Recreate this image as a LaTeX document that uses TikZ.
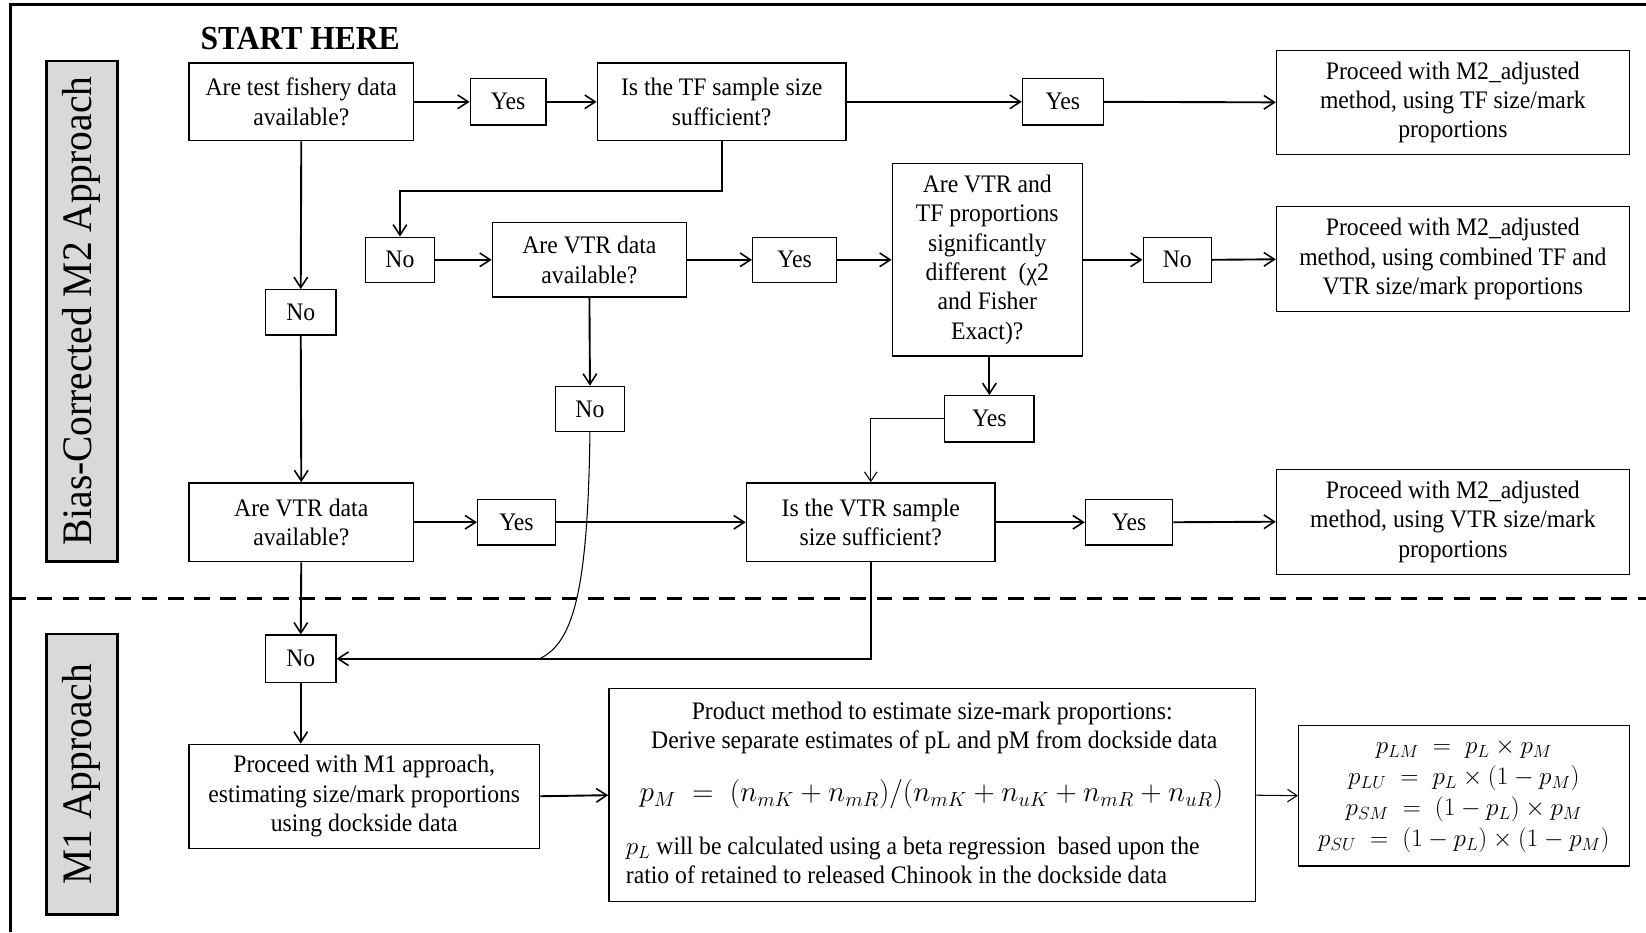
\RequirePackage{fix-cm}
\documentclass[tikz,border=0pt]{standalone}
\usepackage{graphicx}
\usepackage{fontspec}
\setmainfont{Liberation Serif}[FakeStretch=0.94]
\usetikzlibrary{arrows.meta}
\begin{document}
\begin{tikzpicture}[x=1pt,y=-1pt,
  box/.style={draw, line width=1.3pt, inner sep=0pt, align=center, font=\fontsize{24}{28}\selectfont},
  txt/.style={inner sep=0pt, font=\fontsize{24}{28}\selectfont, text height=17pt, text depth=5pt},
  lbl/.style={draw, line width=2.6pt, fill=black!15, rotate=90, inner sep=0pt, font=\fontsize{40}{40}\selectfont},
  conn/.style={line width=1.8pt, -{Straight Barb[length=10pt,width=13pt,line width=1.5pt]}},
  thinconn/.style={line width=1pt, -{Straight Barb[length=9pt,width=12pt,line width=1pt]}}]
\useasboundingbox (0,0) rectangle (1568,888);
% frame and separator
\draw[line width=2.6pt] (10,888) -- (10,4) -- (1568,4);
\draw[line width=3pt, dash pattern=on 15pt off 10pt] (10,570) -- (1568,570);
% side labels
\node[lbl, minimum width=477pt, minimum height=68pt] (lblA) at (78,296.5) {Bias-Corrected M2 Approach};
\node[lbl, minimum width=267pt, minimum height=68pt] (lblB) at (78,737.5) {M1 Approach};
% start
\node[inner sep=0pt, font=\fontsize{32}{32}\selectfont\bfseries] (start) at (286,37) {START HERE};
% row 1
\node[box, minimum width=214pt, minimum height=74pt] (a1) at (287,97) {Are test fishery data\\available?};
\node[box, minimum width=72pt, minimum height=44pt] (y1) at (484,97) {Yes};
\node[box, minimum width=237pt, minimum height=74pt] (tf) at (687.5,97) {Is the TF sample size\\sufficient?};
\node[box, minimum width=77pt, minimum height=44pt] (y2) at (1012.5,97) {Yes};
\node[box, minimum width=336pt, minimum height=99pt] (r1) at (1384,97.5) {Proceed with M2\_adjusted\\method, using TF size/mark\\proportions};
% row 2
\node[box, minimum width=66pt, minimum height=43pt] (n1) at (381,247.5) {No};
\node[box, minimum width=185pt, minimum height=71pt] (v1) at (561.5,247.5) {Are VTR data\\available?};
\node[box, minimum width=80pt, minimum height=43pt] (y3) at (757,247.5) {Yes};
\node[box, minimum width=181pt, minimum height=183pt] (sig) at (940.5,247.5) {Are VTR and\\TF proportions\\significantly\\different\ \ (χ2\\and Fisher\\Exact)?};
\node[box, minimum width=65pt, minimum height=43pt] (n2) at (1121.5,247.5) {No};
\node[box, minimum width=336pt, minimum height=100pt] (r2) at (1384,247) {Proceed with M2\_adjusted\\method, using combined TF and\\VTR size/mark proportions};
% middle
\node[box, minimum width=67pt, minimum height=43pt] (n0) at (286.5,297.5) {No};
\node[box, minimum width=66pt, minimum height=43pt] (n3) at (562,389.5) {No};
\node[box, minimum width=85pt, minimum height=44pt] (y4) at (942.5,399) {Yes};
% row 3
\node[box, minimum width=214pt, minimum height=75pt] (v2) at (287,497.5) {Are VTR data\\available?};
\node[box, minimum width=74pt, minimum height=43pt] (y5) at (492,497.5) {Yes};
\node[box, minimum width=237pt, minimum height=75pt] (vs) at (829.5,497.5) {Is the VTR sample\\size sufficient?};
\node[box, minimum width=83pt, minimum height=43pt] (y6) at (1075.5,497.5) {Yes};
\node[box, minimum width=336pt, minimum height=100pt] (r3) at (1384,497) {Proceed with M2\_adjusted\\method, using VTR size/mark\\proportions};
% M1 part
\node[box, minimum width=67pt, minimum height=45pt] (n4) at (286.5,627.5) {No};
\node[box, minimum width=334pt, minimum height=99pt] (m1) at (347,758.5) {Proceed with M1 approach,\\estimating size/mark proportions\\using dockside data};
\node[box, minimum width=616pt, minimum height=203pt] (prod) at (888,757.5) {};
\node[txt] (pl1) at (888,679) {Product method to estimate size-mark proportions:};
\node[txt] (pl2) at (890,707) {Derive separate estimates of pL and pM from dockside data};
\node[inner sep=0pt, anchor=west, font=\fontsize{24}{24}\selectfont] (pf) at (609,757) {\resizebox{556pt}{!}{$p_M\;=\;(n_{mK}+n_{mR})/(n_{mK}+n_{uK}+n_{mR}+n_{uR})$}};
\node[txt, anchor=west] (pl3) at (596,808) {$p_L$ will be calculated using a beta regression\ \ based upon the};
\node[txt, anchor=west] (pl4) at (596,836) {ratio of retained to released Chinook in the dockside data};
\node[box, minimum width=315pt, minimum height=134pt, font=\fontsize{24}{29.5}\selectfont] (fb) at (1394.5,758) {$p_{LM}\;=\;p_L\times p_M$\\
$p_{LU}\;=\;p_L\times(1-p_M)$\\
$p_{SM}\;=\;(1-p_L)\times p_M$\\
$p_{SU}\;=\;(1-p_L)\times(1-p_M)$};
% connectors
\draw[conn] (a1.east) -- (y1.west);
\draw[conn] (y1.east) -- (tf.west);
\draw[conn] (tf.east) -- (y2.west);
\draw[conn] (y2.east) -- (r1.west);
\draw[conn] (tf.south) -- ++(0,47) -| (n1.north);
\draw[conn] (n1.east) -- (v1.west);
\draw[conn] (v1.east) -- (y3.west);
\draw[conn] (y3.east) -- (sig.west);
\draw[conn] (sig.east) -- (n2.west);
\draw[conn] (n2.east) -- (r2.west);
\draw[conn] (a1.south) -- (n0.north);
\draw[conn] (n0.south) -- (v2.north);
\draw[conn] (v1.south) -- (n3.north);
\draw[conn] (y4.north |- sig.south) -- (y4.north);
\draw[thinconn] (y4.west) -| (vs.north);
\draw[conn] (v2.east) -- (y5.west);
\draw[conn] (y5.east) -- (vs.west);
\draw[conn] (vs.east) -- (y6.west);
\draw[conn] (y6.east) -- (r3.west);
\draw[conn] (v2.south) -- (n4.north);
\draw[conn] (vs.south) |- (n4.east);
\coordinate (join) at (514,627.5);
\draw[line width=1pt] (n3.south) .. controls (560,560) and (547,612) .. (join);
\draw[conn] (n4.south) -- (n4.south |- m1.north);
\draw[conn] (m1.east) -- (prod.west);
\draw[thinconn] (prod.east) -- (fb.west);
\end{tikzpicture}
\end{document}
